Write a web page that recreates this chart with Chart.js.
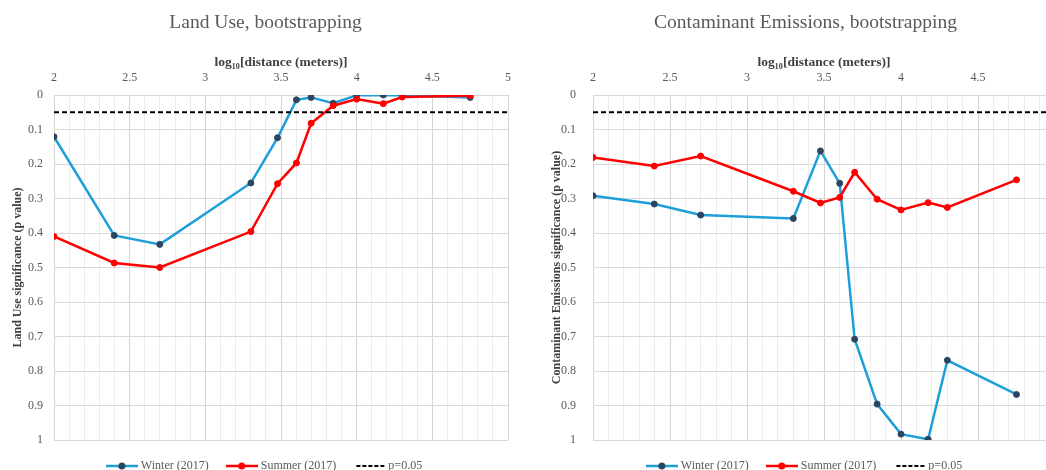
<!DOCTYPE html>
<html>
<head>
<meta charset="utf-8">
<script src="https://cdn.jsdelivr.net/npm/chart.js@4.4.0/dist/chart.umd.min.js"></script>
<style>
    html, body { margin: 0; padding: 0; background: #fff; overflow: hidden; width: 1046px; height: 470px; }
    #landUseChart { position: absolute; left: 0; top: 0; }
    #emissionsChart { position: absolute; left: 530px; top: 0; }
</style>
</head>
<body>
<canvas id="landUseChart" width="530" height="486"></canvas>
<canvas id="emissionsChart" width="550" height="486"></canvas>
<script>
// log10 of the sampled distances
const distanceLog = [2, 2.398, 2.699, 3.301, 3.477, 3.602, 3.699, 3.845, 4, 4.176, 4.301, 4.75];
const landUseWinter = [0.121, 0.407, 0.433, 0.255, 0.124, 0.014, 0.007, 0.024, 0.001, 0, 0.001, 0.007];
const landUseSummer = [0.41, 0.487, 0.5, 0.396, 0.257, 0.197, 0.082, 0.031, 0.012, 0.025, 0.006, 0.002];
const emissionsWinter = [0.292, 0.316, 0.348, 0.358, 0.162, 0.256, 0.708, 0.896, 0.983, 0.998, 0.769, 0.868];
const emissionsSummer = [0.181, 0.206, 0.177, 0.279, 0.313, 0.297, 0.224, 0.302, 0.333, 0.312, 0.326, 0.246];
const thresholdP = 0.05;
const xRange = [2, 5];
const xTickLabels = [2, 2.5, 3, 3.5, 4, 4.5, 5];
const seriesNames = ['Winter (2017)', 'Summer (2017)', 'p=0.05'];

const SERIF = "'Liberation Serif', 'Times New Roman', serif";
const WINTER_LINE = '#1f9fd9';
const WINTER_DOT = '#2c4560';
const SUMMER = '#ff0000';
const TEXT = '#595959';

function toPoints(values) {
    return distanceLog.map((x, i) => ({ x: x, y: values[i] }));
}

function legendIcon(color, dotColor, dashed) {
    const c = document.createElement('canvas');
    c.width = 32;
    c.height = 8;
    const g = c.getContext('2d');
    g.strokeStyle = color;
    g.lineWidth = dashed ? 2 : 2.5;
    if (dashed) g.setLineDash([4, 2]);
    g.beginPath();
    g.moveTo(dashed ? 3 : 0, 4);
    g.lineTo(dashed ? 31 : 32, 4);
    g.stroke();
    if (dotColor) {
        g.fillStyle = dotColor;
        g.beginPath();
        g.arc(16, 4, 3.5, 0, Math.PI * 2);
        g.fill();
    }
    return c;
}

const icons = [
    legendIcon(WINTER_LINE, WINTER_DOT, false),
    legendIcon(SUMMER, SUMMER, false),
    legendIcon('#000', null, true)
];

function buildChart(id, title, yTitle, winter, summer, opt) {
    const ctx = document.getElementById(id).getContext('2d');
    return new Chart(ctx, {
        type: 'line',
        data: {
            datasets: [{
                label: seriesNames[0],
                data: toPoints(winter),
                borderColor: WINTER_LINE,
                backgroundColor: WINTER_DOT,
                pointBackgroundColor: WINTER_DOT,
                pointBorderColor: WINTER_DOT,
                pointRadius: 3,
                pointBorderWidth: 1,
                borderWidth: 2.5,
                order: 1
            }, {
                label: seriesNames[1],
                data: toPoints(summer),
                borderColor: SUMMER,
                backgroundColor: SUMMER,
                pointBackgroundColor: SUMMER,
                pointBorderColor: SUMMER,
                pointRadius: 3,
                pointBorderWidth: 1,
                borderWidth: 2.5,
                order: 0
            }, {
                label: seriesNames[2],
                data: [{ x: xRange[0], y: thresholdP }, { x: xRange[1], y: thresholdP }],
                borderColor: '#000',
                borderDash: [5, 3],
                borderWidth: 2,
                pointRadius: 0,
                order: -1
            }]
        },
        options: {
            responsive: false,
            animation: false,
            // left padding shifts the centred legend; y-axis width makes up the rest
            layout: { padding: { left: opt.padLeft, right: opt.padRight, top: 0, bottom: 4 } },
            plugins: {
                title: {
                    display: true,
                    text: title,
                    color: TEXT,
                    font: { family: SERIF, size: 19.5, weight: 'normal', lineHeight: 1.2 },
                    padding: { top: 11, bottom: 0 }
                },
                legend: {
                    position: 'bottom',
                    labels: {
                        usePointStyle: true,
                        pointStyleWidth: 26,
                        padding: 20,
                        color: TEXT,
                        font: { family: SERIF, size: 12 },
                        sort: (a, b) => a.datasetIndex - b.datasetIndex,
                        generateLabels: (chart) => {
                            const items = Chart.defaults.plugins.legend.labels.generateLabels(chart);
                            items.forEach(it => { it.pointStyle = icons[it.datasetIndex]; });
                            return items;
                        }
                    }
                },
                tooltip: { enabled: false }
            },
            scales: {
                x: {
                    type: 'linear',
                    position: 'top',
                    min: xRange[0],
                    max: xRange[1],
                    border: { display: false },
                    afterFit: (scale) => { scale.height = 60.6; },
                    title: {
                        display: true,
                        text: 'log\u2081\u2080[distance (meters)]',
                        color: '#404040',
                        font: { family: SERIF, size: 13.5, weight: 'bold', lineHeight: 1.2 },
                        padding: { top: 20, bottom: 0 }
                    },
                    ticks: {
                        stepSize: 0.1,
                        maxTicksLimit: 100,
                        autoSkip: false,
                        maxRotation: 0,
                        padding: 10,
                        color: TEXT,
                        font: { family: SERIF, size: 12 },
                        callback: (v) => {
                            const r = Math.round(v * 10) / 10;
                            return xTickLabels.includes(r) ? String(r) : '';
                        }
                    },
                    grid: {
                        drawTicks: false,
                        lineWidth: 1,
                        color: (c) => {
                            const v = c.tick ? c.tick.value : 0;
                            return Math.abs(v * 2 - Math.round(v * 2)) < 1e-6 ? '#d4d4d4' : '#ececec';
                        }
                    }
                },
                y: {
                    type: 'linear',
                    reverse: true,
                    min: 0,
                    max: 1,
                    border: { display: false },
                    afterFit: (scale) => { scale.width = opt.yWidth; },
                    title: {
                        display: true,
                        text: yTitle,
                        color: '#404040',
                        font: { family: SERIF, size: 12, weight: 'bold', lineHeight: 1.2 },
                        padding: { top: opt.yTitlePad, bottom: 0 }
                    },
                    ticks: {
                        stepSize: 0.1,
                        padding: opt.yTickPad,
                        color: TEXT,
                        font: { family: SERIF, size: 12 },
                        callback: (v) => String(Math.round(v * 10) / 10)
                    },
                    grid: { drawTicks: false, color: '#d9d9d9', lineWidth: 1 }
                }
            }
        }
    });
}

document.addEventListener('DOMContentLoaded', () => {
    buildChart('landUseChart', 'Land Use, bootstrapping', 'Land Use significance (p value)',
        landUseWinter, landUseSummer,
        { padLeft: 23, padRight: 22, yWidth: 31, yTitlePad: -12.2, yTickPad: 11 });
    buildChart('emissionsChart', 'Contaminant Emissions, bootstrapping', 'Contaminant Emissions significance (p value)',
        emissionsWinter, emissionsSummer,
        { padLeft: 26, padRight: 25, yWidth: 37, yTitlePad: -6.2, yTickPad: 17 });
});
</script>
</body>
</html>
